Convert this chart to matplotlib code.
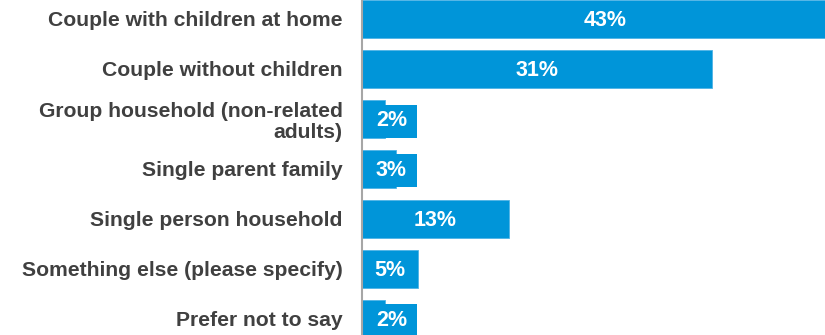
import numpy as np
import matplotlib
matplotlib.use('Agg')
import matplotlib.pyplot as plt

categories = ['Couple with children at home',
              'Couple without children',
              'Group household (non-related\nadults)',
              'Single parent family',
              'Single person household',
              'Something else (please specify)',
              'Prefer not to say']
values = [43, 31, 2, 3, 13, 5, 2]
labels = ['43%', '31%', '2%', '3%', '13%', '5%', '2%']

blue = '#0095D9'
label_min = 4.9   # label boxes on small bars are at least this wide

plt.rcParams['font.family'] = ['Liberation Sans', 'DejaVu Sans']

fig = plt.figure(figsize=(8.25, 3.35), dpi=100)
ax = fig.add_axes([362 / 825, 0, 463 / 825, 1])

y = np.arange(len(values))
ax.barh(y, values, height=0.76, color=blue, edgecolor='#4FB3E6', linewidth=0.6, zorder=2)

# background boxes behind the labels of very small bars
small = [max(v, label_min) if v < label_min else 0 for v in values]
ax.barh(y + 0.04, small, height=0.66, color=blue, linewidth=0, zorder=2)

for i, (v, lab) in enumerate(zip(values, labels)):
    xc = max(v, label_min) / 2
    if v < label_min:
        xc = label_min / 2 + 0.15
    ax.text(xc, i + 0.03, lab, ha='center', va='center', color='white',
            fontsize=15.5, fontweight='bold', zorder=3)

ax.set_xlim(0, 41)
ax.set_ylim(6.32, -0.38)
ax.set_yticks(y)
ax.set_yticklabels(categories, fontsize=15.2, fontweight='bold', color='#404040',
                   linespacing=1.1)
ax.tick_params(axis='y', length=0, pad=14)
ax.set_xticks([])
for s in ['top', 'right', 'bottom']:
    ax.spines[s].set_visible(False)
ax.spines['left'].set_color('#A6A6A6')
ax.spines['left'].set_linewidth(1.5)
ax.spines['left'].set_zorder(4)

fig.savefig('out.png', dpi=100)
